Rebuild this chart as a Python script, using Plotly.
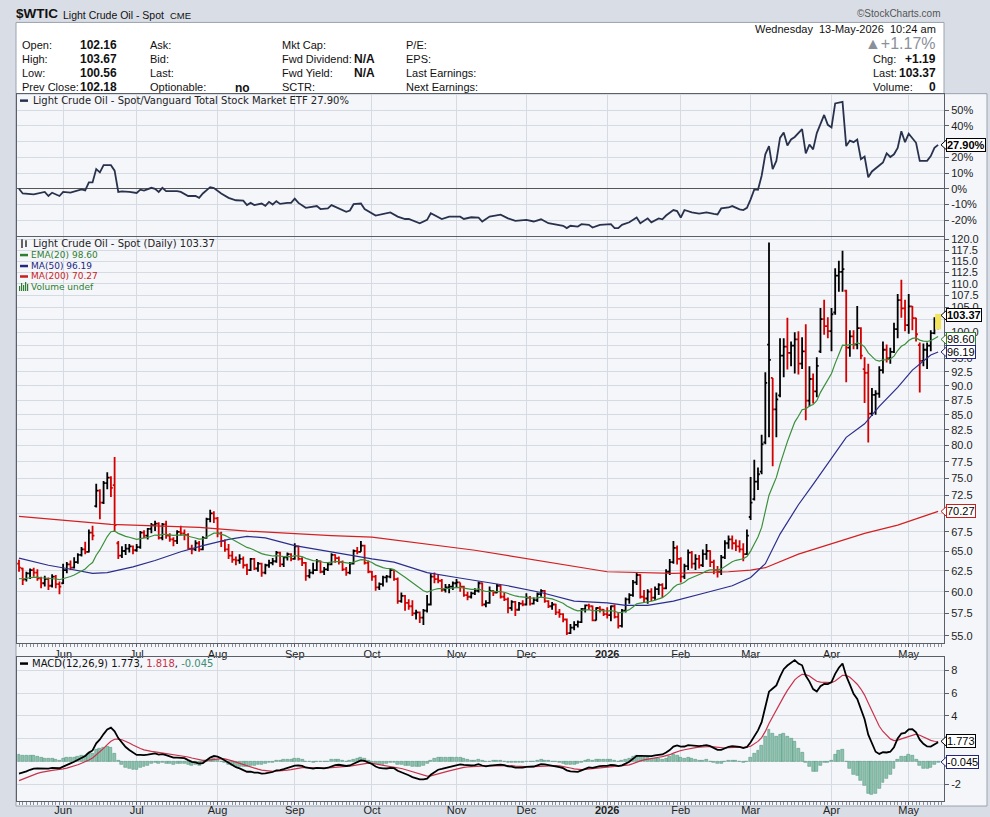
import math
import pandas as pd
import plotly.graph_objects as go

# ---------------- data ----------------
holidays = ["2025-05-26", "2025-06-19", "2025-07-04", "2025-09-01", "2025-11-27",
            "2025-12-25", "2026-01-01", "2026-01-19", "2026-02-16", "2026-04-03"]
trade_days = [d for d in pd.bdate_range("2025-05-14", "2026-05-13")
              if d.strftime("%Y-%m-%d") not in holidays]

opens = [63.4, 62.8, 61.5, 62.2, 62.6, 62.3, 61.6, 61.0, 61.5, 60.7, 61.8, 60.9,
         61.0, 62.6, 63.3, 62.9, 63.6, 64.5, 65.2, 64.9, 67.4, 71.0, 73.2, 71.5, 74.3, 75.1, 74.0, 66.0, 64.4, 65.0, 65.3, 65.6,
         65.1, 65.5, 67.4, 67.0, 67.9, 68.4, 68.6, 66.7, 68.5, 67.0, 66.5, 66.3, 67.5, 67.3, 67.1, 65.3, 65.2, 66.0, 65.2, 66.7, 69.2, 70.0,
         69.3, 67.3, 66.3, 65.2, 64.4, 63.9, 63.8, 64.0, 63.2, 62.6, 64.0, 62.8, 63.4, 62.3, 63.2, 63.5, 63.7, 64.8, 63.3, 64.2, 64.6,
         64.0, 65.6, 64.0, 63.5, 61.9, 62.3, 62.6, 63.7, 62.4, 62.7, 63.3, 64.5, 64.1, 63.6, 62.7, 62.3, 63.4, 65.0, 64.9, 65.7, 63.5,
         62.4, 61.8, 60.5, 60.9, 61.7, 61.8, 62.6, 61.5, 58.9, 59.5, 58.7, 58.3, 57.5, 57.6, 57.0, 57.8, 58.5, 61.8, 61.5, 61.3, 60.2, 60.5, 60.6,
         61.0, 61.1, 60.6, 59.6, 59.4, 59.8, 60.1, 61.0, 58.5, 58.7, 60.1, 59.9, 60.7, 59.4, 59.1, 58.1, 58.8, 57.9, 58.6,
         58.5, 59.3, 58.6, 59.0, 59.7, 60.1, 58.9, 58.3, 58.5, 57.6, 57.4, 56.8, 55.3, 55.9, 56.2, 56.5, 58.0, 58.4, 58.3, 56.7, 58.1, 57.9,
         57.4, 57.3, 58.3, 57.1, 56.1, 57.8, 59.1, 59.6, 61.1, 62.0, 59.4, 59.2, 60.0, 59.3, 60.3, 60.8, 60.4, 62.4, 63.6, 65.4,
         64.0, 61.8, 63.1, 64.8, 63.4, 64.0, 63.2, 64.6, 65.0, 63.6, 62.6, 62.4, 64.2, 66.0, 66.5, 66.0, 65.6, 65.2, 64.6,
         69.5, 72.0, 74.5, 76.0, 80.5, 97.6, 91.4, 85.9, 88.3, 95.5, 97.2, 96.0, 97.4, 98.6, 94.0, 96.3, 87.4, 91.2, 89.0, 96.3, 102.6, 101.2,
         100.2, 104.0, 111.8, 112.6, 108.5, 97.0, 99.2, 97.6, 100.8, 93.0, 92.3, 85.2, 88.4, 88.6, 92.8, 96.6, 95.0, 96.2, 100.6, 106.5, 104.8,
         101.4, 105.2, 102.8, 97.5, 94.5, 96.6, 97.4, 99.8, 102.16]

highs = [63.9, 62.9, 62.4, 62.8, 62.9, 62.7, 61.8, 61.9, 61.7, 62.1, 62.0, 61.2,
         63.4, 63.6, 63.8, 64.2, 64.7, 65.5, 66.2, 67.8, 68.3, 74.2, 73.4, 74.6, 75.9, 75.3, 78.2, 66.3, 65.6, 65.9, 65.9, 65.7,
         65.9, 67.6, 67.7, 68.0, 68.7, 69.0, 68.8, 68.7, 69.0, 67.3, 66.8, 67.7, 68.3, 67.8, 67.3, 65.8, 66.4, 66.3, 66.9, 69.4, 70.5, 70.3,
         69.5, 67.5, 66.5, 65.9, 65.0, 64.3, 64.6, 64.3, 63.4, 64.1, 64.1, 63.6, 63.5, 63.4, 63.9, 64.1, 65.0, 64.9, 64.3, 64.8, 64.7,
         66.0, 65.7, 64.2, 63.6, 62.7, 63.5, 64.0, 63.8, 63.0, 63.5, 64.7, 64.6, 64.3, 63.8, 63.0, 63.6, 65.2, 65.5, 66.3, 65.8, 63.8,
         62.5, 62.0, 61.1, 61.9, 62.0, 62.8, 62.6, 61.7, 59.9, 59.6, 59.1, 59.0, 57.9, 57.7, 58.0, 59.6, 62.2, 62.3, 62.0, 61.5, 60.9, 60.9, 61.2,
         61.5, 61.1, 60.7, 60.0, 60.0, 60.4, 61.2, 61.1, 59.0, 60.6, 60.2, 60.9, 60.8, 59.9, 59.3, 59.0, 58.9, 58.8, 59.0,
         59.8, 59.5, 59.3, 59.9, 60.3, 60.2, 59.0, 58.8, 58.6, 58.0, 57.5, 56.9, 56.3, 56.6, 56.7, 58.1, 58.5, 58.6, 58.4, 58.2, 58.3, 58.0,
         58.2, 58.4, 58.5, 57.6, 58.0, 59.3, 59.8, 61.4, 62.3, 62.1, 60.2, 60.3, 60.4, 60.6, 61.0, 61.0, 62.7, 64.0, 66.3, 65.7,
         64.2, 63.4, 65.2, 65.0, 64.6, 64.5, 65.2, 65.9, 65.1, 63.9, 63.1, 64.5, 66.4, 67.0, 67.0, 66.5, 66.4, 66.0, 67.8,
         75.2, 77.8, 76.6, 81.7, 92.4, 119.3, 91.4, 88.8, 98.8, 98.8, 102.9, 98.2, 100.0, 100.2, 99.0, 101.6, 93.5, 92.2, 95.2, 104.9, 106.6, 103.0,
         104.9, 113.4, 115.1, 117.4, 108.7, 100.4, 100.4, 105.3, 101.0, 95.2, 94.0, 89.6, 89.2, 93.5, 98.2, 97.6, 97.0, 101.9, 107.8, 110.9, 106.6,
         107.8, 105.3, 102.9, 98.0, 97.8, 98.0, 100.4, 103.0, 103.67]

lows = [62.4, 60.8, 61.2, 61.5, 61.8, 61.3, 60.4, 60.6, 60.2, 60.5, 60.4, 59.7,
        60.9, 62.2, 62.6, 62.8, 63.4, 64.3, 64.6, 64.8, 66.4, 70.8, 69.2, 71.3, 73.4, 72.3, 67.6, 64.0, 64.1, 64.5, 64.8, 64.6,
        64.9, 65.3, 66.7, 66.5, 67.3, 67.6, 66.5, 66.4, 66.6, 66.2, 65.6, 65.9, 67.0, 66.4, 65.2, 64.6, 65.0, 64.9, 65.1, 66.6, 68.8, 68.7,
        66.8, 65.5, 64.9, 64.0, 63.5, 63.2, 63.4, 62.8, 62.0, 62.5, 62.6, 62.4, 61.8, 62.1, 62.9, 63.2, 63.5, 63.0, 63.0, 63.8, 63.7,
        63.9, 63.8, 63.1, 61.3, 61.6, 62.1, 62.5, 62.2, 62.0, 62.5, 63.2, 63.5, 63.3, 62.5, 61.9, 62.1, 63.3, 64.6, 64.9, 63.3, 62.2,
        61.3, 60.1, 60.2, 60.6, 61.1, 61.6, 61.3, 58.6, 58.7, 57.8, 57.9, 57.2, 56.8, 56.4, 56.2, 57.6, 58.4, 61.0, 61.0, 60.0, 59.9, 59.8, 60.2,
        60.5, 60.0, 59.4, 59.0, 59.2, 59.6, 59.9, 58.3, 58.2, 58.6, 59.5, 59.8, 59.2, 58.9, 57.5, 57.8, 57.2, 57.8, 58.3,
        58.4, 58.4, 58.5, 58.8, 59.4, 58.7, 58.1, 57.9, 57.3, 57.0, 56.5, 55.1, 55.2, 55.6, 55.9, 56.4, 57.6, 57.9, 56.6, 56.7, 57.6, 57.2,
        56.9, 56.6, 56.9, 55.8, 55.9, 57.6, 58.6, 59.4, 60.8, 59.2, 58.8, 58.6, 58.9, 59.0, 59.6, 59.3, 60.3, 62.0, 63.4, 63.3,
        61.1, 61.5, 62.6, 62.8, 62.6, 62.8, 63.0, 63.9, 63.0, 62.1, 61.7, 62.0, 64.0, 65.3, 65.2, 65.0, 64.8, 63.7, 64.5,
        69.1, 71.8, 73.3, 75.6, 80.2, 81.3, 76.8, 81.3, 88.0, 91.5, 92.9, 93.5, 92.2, 92.0, 93.0, 84.1, 86.4, 86.9, 88.0, 96.0, 99.5, 98.8,
        96.3, 103.5, 108.3, 108.3, 90.6, 95.3, 96.7, 96.7, 94.8, 87.0, 80.5, 84.8, 85.0, 87.9, 92.2, 94.2, 94.0, 96.0, 98.8, 102.9, 100.2,
        99.7, 100.4, 98.2, 88.8, 93.5, 93.0, 96.3, 99.6, 100.56]

closes = [62.9, 61.4, 62.2, 62.6, 62.3, 61.6, 61.0, 61.5, 60.7, 61.8, 60.9, 60.6,
          62.6, 63.3, 62.9, 63.6, 64.5, 65.2, 64.9, 67.4, 67.0, 73.2, 71.5, 74.3, 75.1, 73.6, 68.4, 64.4, 65.0, 65.3, 65.6, 65.1,
          65.5, 67.4, 67.0, 67.9, 68.4, 68.6, 66.7, 68.5, 67.0, 66.5, 66.3, 67.5, 67.3, 67.1, 65.3, 65.2, 66.0, 65.2, 66.7, 69.2, 70.0, 69.3,
          67.3, 66.3, 65.2, 64.4, 63.9, 63.8, 64.0, 63.2, 62.6, 64.0, 62.8, 63.4, 62.3, 63.2, 63.5, 63.7, 64.8, 63.3, 64.2, 64.6, 64.0,
          65.6, 64.0, 63.5, 61.9, 62.3, 62.6, 63.7, 62.4, 62.7, 63.3, 64.5, 64.1, 63.6, 62.7, 62.3, 63.4, 65.0, 64.9, 65.7, 63.5, 62.4,
          61.8, 60.5, 60.9, 61.7, 61.8, 62.6, 61.5, 58.9, 59.5, 58.7, 58.3, 57.5, 57.6, 57.0, 57.8, 58.5, 61.8, 61.5, 61.3, 60.2, 60.5, 60.6, 61.0,
          61.1, 60.6, 59.6, 59.4, 59.8, 60.1, 61.0, 58.5, 58.7, 60.1, 59.9, 60.7, 59.4, 59.1, 58.1, 58.8, 57.9, 58.6, 58.5,
          59.3, 58.6, 59.0, 59.7, 60.1, 58.9, 58.3, 58.5, 57.6, 57.4, 56.8, 55.3, 55.9, 56.2, 56.5, 58.0, 58.4, 58.3, 56.7, 58.1, 57.9, 57.4,
          57.3, 58.3, 57.1, 56.1, 57.8, 59.1, 59.6, 61.1, 62.0, 59.4, 59.2, 60.0, 59.3, 60.3, 60.8, 60.4, 62.4, 63.6, 65.4, 64.0,
          61.8, 63.1, 64.8, 63.4, 64.0, 63.2, 64.6, 65.0, 63.6, 62.6, 62.4, 64.2, 66.0, 66.5, 66.0, 65.6, 65.2, 64.6, 67.0,
          71.5, 74.5, 75.6, 80.2, 90.5, 94.7, 85.9, 87.6, 95.5, 97.2, 96.0, 97.4, 98.6, 94.0, 96.3, 87.4, 91.2, 89.0, 93.6, 102.6, 101.2, 100.2,
          103.6, 111.8, 112.6, 113.2, 97.0, 99.2, 97.6, 100.8, 95.5, 92.3, 85.2, 88.4, 88.6, 92.8, 96.6, 95.0, 96.2, 100.6, 106.5, 104.8, 101.4,
          105.2, 102.8, 99.6, 94.5, 96.6, 97.4, 99.8, 102.18, 103.37]

# moving averages (trading-day index, value)
ma50_idx = [0, 8, 13, 20, 24, 31, 37, 44, 50, 57, 62, 67, 75, 82, 89, 96, 102, 111, 119, 127, 133, 142,
            151, 160, 165, 171, 178, 187, 194, 199, 203, 207, 212, 216, 221, 225, 230, 234, 239, 243, 248, 250]
ma50_val = [64.1, 63.2, 62.8, 62.2, 62.3, 63.0, 63.8, 64.9, 65.7, 66.5, 66.9, 66.7, 65.7, 65.1, 64.5, 64.0, 63.6,
            62.3, 61.7, 61.1, 60.7, 59.9, 58.9, 58.7, 58.4, 58.4, 58.9, 59.9, 60.7, 61.7, 63.4, 67.2, 71.2, 74.1,
            78.1, 81.3, 83.5, 86.4, 89.7, 92.8, 95.6, 96.19]
ma200_idx = [0, 25, 49, 62, 85, 96, 124, 142, 160, 178, 193, 199, 203, 212, 221, 230, 239, 250]
ma200_val = [69.6, 68.5, 68.1, 67.6, 67.0, 66.8, 65.1, 63.7, 62.4, 62.2, 62.4, 62.6, 62.9, 64.6, 65.9, 67.3, 68.4, 70.27]

# ratio Crude / VTI, % change over the window (trading-day index, %)
ratio_idx = [0, 1, 4, 7, 8, 9, 11, 12, 14, 17, 18, 19, 20, 21, 22, 23, 25, 26, 27, 28, 30, 32, 33, 34, 36, 37, 38,
             39, 40, 43, 44, 46, 48, 49, 50, 52, 53, 55, 57, 59, 61, 62, 63, 64, 66, 67, 68, 69, 70, 71, 73, 74, 75,
             76, 78, 81, 82, 84, 85, 86, 89, 90, 91, 93, 94, 97, 100, 101, 103, 105, 106, 109, 111, 112, 115, 117,
             120, 121, 123, 125, 126, 128, 131, 133, 135, 138, 140, 142, 144, 147, 148, 149, 150, 152, 153, 155,
             156, 158, 161, 162, 163, 164, 166, 168, 169, 171, 172, 174, 175, 176, 178, 179, 180, 181, 183, 185,
             187, 189, 190, 191, 193, 194, 196, 197, 198, 199, 200, 201, 202, 203, 204, 205, 206, 207, 208, 209,
             210, 211, 213, 214, 215, 216, 217, 219, 220, 221, 222, 224, 225, 226, 227, 228, 229, 230, 231, 232,
             234, 235, 236, 237, 238, 239, 240, 241, 242, 244, 245, 247, 248, 249, 250]
ratio_pct = [0.0, -3.0, -3.5, -2.0, -4.6, -2.5, -4.6, -2.0, -2.5, -0.4, -1.0, 4.0, 4.0, 12.5, 10.4, 15.0, 15.0, 11.5,
             -2.0, -1.7, -2.0, -2.7, -0.6, -1.2, 0.6, 0.0, -2.0, 0.6, -1.5, -1.5, -2.0, -4.6, -4.6, -5.8, -3.0, 1.0,
             0.4, -3.0, -5.8, -7.3, -7.5, -10.4, -9.0, -10.4, -9.4, -10.8, -8.3, -10.0, -7.9, -9.6, -9.0, -9.0, -6.3,
             -9.0, -12.1, -11.0, -12.9, -12.5, -10.4, -11.5, -14.6, -13.8, -9.8, -9.4, -12.9, -17.0, -15.6, -15.0,
             -17.7, -19.2, -19.2, -21.9, -19.8, -15.6, -19.2, -17.7, -17.7, -19.2, -18.1, -18.3, -20.8, -17.7, -16.5,
             -18.8, -20.4, -19.8, -20.8, -19.4, -21.9, -22.9, -23.5, -25.0, -23.5, -24.0, -22.5, -22.9, -24.6, -22.9,
             -22.5, -25.0, -25.0, -22.9, -21.3, -18.3, -21.9, -18.8, -21.3, -18.8, -19.4, -17.0, -13.5, -14.2, -18.3,
             -13.5, -15.0, -15.8, -15.0, -16.0, -16.3, -12.5, -11.9, -11.0, -13.1, -13.5, -12.1, -6.7, -0.4, -0.6,
             8.3, 21.9, 27.1, 12.5, 17.7, 32.3, 35.8, 27.5, 31.3, 32.9, 37.9, 22.5, 28.1, 25.0, 35.4, 46.9, 40.6,
             39.0, 54.2, 55.2, 27.1, 30.6, 29.6, 31.3, 18.8, 20.5, 7.3, 11.0, 14.6, 16.7, 22.5, 20.2, 21.9, 26.0,
             36.5, 29.6, 35.0, 29.2, 17.7, 17.7, 20.8, 26.0, 27.9]

EMA20_SEED = 61.4
EMA12_SEED = 61.3
EMA26_SEED = 62.6
SIGNAL_SEED = -1.85

month_labels = ["Jun", "Jul", "Aug", "Sep", "Oct", "Nov", "Dec", "<b>2026</b>", "Feb", "Mar", "Apr", "May"]
price_ticks = [55.0, 57.5, 60.0, 62.5, 65.0, 67.5, 70.0, 72.5, 75.0, 77.5, 80.0, 82.5, 85.0, 87.5, 90.0,
               92.5, 95.0, 97.5, 100.0, 102.5, 105.0, 107.5, 110.0, 112.5, 115.0, 117.5, 120.0]
price_hidden = [70.0, 97.5, 102.5]          # covered by the value boxes in the reference
ratio_ticks = [-20, -10, 0, 10, 20, 30, 40, 50]
macd_ticks = [-2, 0, 2, 4, 6, 8]

# ---------------- derived series ----------------
n = len(closes)
idx = list(range(n))


def ema(values, span, seed):
    a = 2.0 / (span + 1)
    out, prev = [], seed
    for v in values:
        prev = prev + a * (v - prev)
        out.append(prev)
    return out


ema20 = ema(closes, 20, EMA20_SEED)
ema12 = ema(closes, 12, EMA12_SEED)
ema26 = ema(closes, 26, EMA26_SEED)
macd = [a - b for a, b in zip(ema12, ema26)]
signal = ema(macd, 9, SIGNAL_SEED)
hist = [m - s for m, s in zip(macd, signal)]

month_idx = [i for i in range(1, n) if trade_days[i].month != trade_days[i - 1].month]

up = [i for i in idx if i > 0 and closes[i] >= closes[i - 1]]
dn = [i for i in idx if i == 0 or closes[i] < closes[i - 1]]

# ---------------- layout helpers ----------------
W, H = 990, 817


def px(x):
    return x / W


def py(y):
    return 1 - y / H


X_DOM = [px(17), px(944)]
XR = [-0.55, 251.6]
R_TOP, R_BOT, R_RNG = 91.5, 234.0, [-30.1, 60.1]
P_TOP, P_BOT, P_RNG = 234.5, 642.0, [math.log10(54.27), math.log10(120.7)]
M_TOP, M_BOT, M_RNG = 656.0, 801.0, [-3.49, 9.23]

GRID = "#d6dae2"
LINE = "#5a5f69"
BG = "#f4f6fa"
FONT_UI = "Liberation Sans, Arial, sans-serif"
FONT_PANEL = "DejaVu Sans, Verdana, sans-serif"
UPC = "#000000"
DNC = "#d40000"

fig = go.Figure()

# ratio panel
fig.add_trace(go.Scatter(x=ratio_idx, y=ratio_pct, mode="lines", xaxis="x", yaxis="y",
                         line=dict(color="#29324d", width=1.8), hoverinfo="skip"))

# price panel: moving averages
fig.add_trace(go.Scatter(x=ma200_idx, y=ma200_val, mode="lines", xaxis="x2", yaxis="y2",
                         line=dict(color="#d42020", width=1.2), hoverinfo="skip"))
fig.add_trace(go.Scatter(x=ma50_idx, y=ma50_val, mode="lines", xaxis="x2", yaxis="y2",
                         line=dict(color="#2b2d8c", width=1.2), hoverinfo="skip"))
fig.add_trace(go.Scatter(x=idx, y=ema20, mode="lines", xaxis="x2", yaxis="y2",
                         line=dict(color="#3b8f3b", width=1.2), hoverinfo="skip"))

# highlight of the last bar
fig.add_trace(go.Scatter(x=[idx[-1], idx[-1]], y=[lows[-1], highs[-1]], mode="lines",
                         xaxis="x2", yaxis="y2", line=dict(color="#f2e45c", width=6), hoverinfo="skip"))


def ohlc_trace(sel, color):
    return go.Ohlc(x=sel, open=[opens[i] for i in sel], high=[highs[i] for i in sel],
                   low=[lows[i] for i in sel], close=[closes[i] for i in sel],
                   xaxis="x2", yaxis="y2", tickwidth=0.5, hoverinfo="skip",
                   increasing=dict(line=dict(color=color, width=1.8)),
                   decreasing=dict(line=dict(color=color, width=1.8)))


fig.add_trace(ohlc_trace(dn, DNC))
fig.add_trace(ohlc_trace(up, UPC))

# MACD panel
fig.add_trace(go.Bar(x=idx, y=hist, xaxis="x3", yaxis="y3", width=0.8,
                     marker=dict(color="#8cc3ad", line=dict(color="#4f8c78", width=0.5)), hoverinfo="skip"))
fig.add_trace(go.Scatter(x=idx, y=signal, mode="lines", xaxis="x3", yaxis="y3",
                         line=dict(color="#c8324b", width=1.2), hoverinfo="skip"))
fig.add_trace(go.Scatter(x=idx, y=macd, mode="lines", xaxis="x3", yaxis="y3",
                         line=dict(color="#000000", width=1.8), hoverinfo="skip"))

tickfont = dict(family=FONT_UI, size=11, color="#222")
xbase = dict(domain=X_DOM, range=XR, tickmode="array", tickvals=month_idx, ticktext=month_labels,
             showgrid=True, gridcolor=GRID, gridwidth=1, zeroline=False, showline=True,
             linecolor=LINE, linewidth=1, mirror=True, fixedrange=True, tickfont=tickfont)
ybase = dict(side="right", showgrid=True, gridcolor=GRID, gridwidth=1, showline=True, linecolor=LINE,
             linewidth=1, mirror=True, ticks="outside", ticklen=4, tickcolor=LINE, fixedrange=True,
             tickfont=tickfont, tickmode="array")

minor = dict(ticks="outside", ticklen=3, tickcolor="#8a909a", tick0=0, dtick=1, showgrid=False)

fig.update_layout(
    width=W, height=H, margin=dict(l=0, r=0, t=0, b=0),
    paper_bgcolor="#d9dee6", plot_bgcolor=BG, showlegend=False, bargap=0,
    xaxis=dict(xbase, anchor="y", showticklabels=False, ticks=""),
    yaxis=dict(ybase, domain=[py(R_BOT), py(R_TOP)], anchor="x", range=R_RNG,
               tickvals=ratio_ticks, ticktext=["-20%", "-10%", "0%", "10%", "20%", "", "40%", "50%"],
               zeroline=True, zerolinecolor="#555", zerolinewidth=1),
    xaxis2=dict(xbase, anchor="y2", ticks="outside", ticklen=3, tickcolor=LINE, minor=minor,
                ticklabelstandoff=-2, rangeslider=dict(visible=False)),
    yaxis2=dict(ybase, domain=[py(P_BOT), py(P_TOP)], anchor="x2", type="log",
                range=P_RNG, tickvals=price_ticks,
                ticktext=["" if v in price_hidden else "%.1f" % v for v in price_ticks], zeroline=False),
    xaxis3=dict(xbase, anchor="y3", ticks="outside", ticklen=3, tickcolor=LINE, minor=minor,
                ticklabelstandoff=-4),
    yaxis3=dict(ybase, domain=[py(M_BOT), py(M_TOP)], anchor="x3", range=M_RNG,
                tickvals=macd_ticks, ticktext=["-2", "", "", "4", "6", "8"], zeroline=False),
)


def ypix(top, bot, rng, v):
    return top + (rng[1] - v) / (rng[1] - rng[0]) * (bot - top)


shapes = [
    # panel background block (plots + right-hand label column)
    dict(type="rect", xref="paper", yref="paper", x0=px(16), x1=px(987), y0=py(806), y1=py(91),
         fillcolor=BG, line=dict(color="#9aa3b0", width=1), layer="below"),
    # white quote box
    dict(type="rect", xref="paper", yref="paper", x0=px(16), x1=px(944), y0=py(91), y1=py(19.5),
         fillcolor="#ffffff", line=dict(color="#9aa3b0", width=1), layer="below"),
    # legend dashes
    dict(type="line", xref="paper", yref="paper", x0=px(20), x1=px(28), y0=py(98), y1=py(98),
         line=dict(color="#29324d", width=2.5)),
    dict(type="line", xref="paper", yref="paper", x0=px(20), x1=px(28), y0=py(253), y1=py(253),
         line=dict(color="#2f7d2f", width=2.5)),
    dict(type="line", xref="paper", yref="paper", x0=px(20), x1=px(28), y0=py(264), y1=py(264),
         line=dict(color="#23257e", width=2.5)),
    dict(type="line", xref="paper", yref="paper", x0=px(20), x1=px(28), y0=py(274.5), y1=py(274.5),
         line=dict(color="#c81e1e", width=2.5)),
    dict(type="line", xref="paper", yref="paper", x0=px(20), x1=px(28), y0=py(663), y1=py(663),
         line=dict(color="#000000", width=2.5)),
    # price legend bar icon
    dict(type="line", xref="paper", yref="paper", x0=px(22), x1=px(22), y0=py(246), y1=py(237),
         line=dict(color="#000", width=1.2)),
    dict(type="line", xref="paper", yref="paper", x0=px(26), x1=px(26), y0=py(245), y1=py(238),
         line=dict(color="#000", width=1.2)),
]
# volume icon (small bars)
for k, hgt in enumerate([5, 8, 6, 9, 7]):
    shapes.append(dict(type="rect", xref="paper", yref="paper", x0=px(19 + 2 * k), x1=px(20.2 + 2 * k),
                       y0=py(289), y1=py(289 - hgt), fillcolor="#2f7d2f", line=dict(width=0)))

# small left-pointing markers of the value boxes
markers = [
    (ypix(R_TOP, R_BOT, R_RNG, ratio_pct[-1]), "#000"),
    (ypix(P_TOP, P_BOT, P_RNG, math.log10(closes[-1])), "#000"),
    (ypix(P_TOP, P_BOT, P_RNG, math.log10(98.60)), "#2f7d2f"),
    (ypix(P_TOP, P_BOT, P_RNG, math.log10(96.19)), "#23257e"),
    (ypix(P_TOP, P_BOT, P_RNG, math.log10(70.27)), "#c81e1e"),
    (ypix(M_TOP, M_BOT, M_RNG, 1.773), "#000"),
    (ypix(M_TOP, M_BOT, M_RNG, -0.045), "#23257e"),
]
for yc, col in markers:
    path = "M %f,%f L %f,%f L %f,%f Z" % (px(946.5), py(yc - 5), px(941), py(yc), px(946.5), py(yc + 5))
    shapes.append(dict(type="path", xref="paper", yref="paper", path=path, fillcolor="#ffffff",
                       line=dict(color=col, width=1)))
fig.update_layout(shapes=shapes)


def txt(x, y, s, size=11, color="#111", bold=False, anchor="left", family=FONT_UI):
    return dict(x=px(x), y=py(y), xref="paper", yref="paper", showarrow=False,
                text=("<b>%s</b>" % s) if bold else s, xanchor=anchor, yanchor="middle",
                font=dict(family=family, size=size, color=color))


ann = [
    txt(14, 11, "$WTIC", size=13.5, bold=True, color="#111"),
    txt(61, 12, "Light Crude Oil - Spot", size=10.5),
    txt(168, 12.5, "CME", size=9.5),
    txt(943, 11, "©StockCharts.com", size=10, color="#555", anchor="right"),
]
rows = [42, 56, 70, 84]
for lab, val, y in zip(["Open:", "High:", "Low:", "Prev Close:"], ["102.16", "103.67", "100.56", "102.18"], rows):
    ann.append(txt(20, y, lab))
    ann.append(txt(78, y, val, bold=True, size=12))
for lab, y in zip(["Ask:", "Bid:", "Last:", "Optionable:"], rows):
    ann.append(txt(148, y, lab))
ann.append(txt(233, 85, "no", bold=True, size=12))
for lab, y in zip(["Mkt Cap:", "Fwd Dividend:", "Fwd Yield:", "SCTR:"], rows):
    ann.append(txt(280, y, lab))
ann.append(txt(352, 56, "N/A", bold=True, size=12))
ann.append(txt(352, 70, "N/A", bold=True, size=12))
for lab, y in zip(["P/E:", "EPS:", "Last Earnings:", "Next Earnings:"], rows):
    ann.append(txt(404, y, lab))
ann += [
    txt(938, 26, "Wednesday  13-May-2026  10:24 am", anchor="right"),
    txt(938, 41, "▲+1.17%", size=16, color="#8a9099", anchor="right"),
    txt(871, 56, "Chg:"), txt(938, 56, "+1.19", bold=True, size=12, anchor="right"),
    txt(871, 70, "Last:"), txt(938, 70, "103.37", bold=True, size=12, anchor="right"),
    txt(871, 84, "Volume:"), txt(938, 84, "0", bold=True, size=12, anchor="right"),
    # panel legends
    txt(31, 98, "Light Crude Oil - Spot/Vanguard Total Stock Market ETF 27.90%", size=10,
        color="#222", family=FONT_PANEL),
    txt(31, 241, "Light Crude Oil - Spot (Daily) 103.37", size=10, color="#222", family=FONT_PANEL),
    txt(29, 253, "EMA(20) 98.60", size=9, color="#2f7d2f", family=FONT_PANEL),
    txt(29, 264, "MA(50) 96.19", size=9, color="#23257e", family=FONT_PANEL),
    txt(29, 274.5, "MA(200) 70.27", size=9, color="#c81e1e", family=FONT_PANEL),
    txt(29, 285, "Volume undef", size=9, color="#2f7d2f", family=FONT_PANEL),
    txt(30, 663, "MACD(12,26,9) 1.773, <span style='color:#c8324b'>1.818</span>, "
                 "<span style='color:#3d8c74'>-0.045</span>", size=10, color="#111", family=FONT_PANEL),
]


def box(yv, yref, s, color, bold=False):
    return dict(x=px(946), xref="paper", y=yv, yref=yref, xanchor="left", yanchor="middle",
                text=("<b>%s</b>" % s) if bold else s, showarrow=False, bgcolor="#ffffff",
                bordercolor=color, borderwidth=1, borderpad=0,
                font=dict(family=FONT_UI, size=11, color="#000"))


ann += [
    box(ratio_pct[-1], "y", "27.90%", "#000", bold=True),
    box(math.log10(closes[-1]), "y2", "103.37", "#000", bold=True),
    box(math.log10(98.60), "y2", "98.60", "#2f7d2f"),
    box(math.log10(96.19), "y2", "96.19", "#23257e"),
    box(math.log10(70.27), "y2", "70.27", "#c81e1e"),
    box(1.773, "y3", "1.773", "#000"),
    box(-0.045, "y3", "-0.045", "#23257e"),
]
fig.update_layout(annotations=ann)

fig.write_html("out.html", config={"displayModeBar": False},
               post_script="document.body.style.margin='0';document.body.style.overflow='hidden';")
